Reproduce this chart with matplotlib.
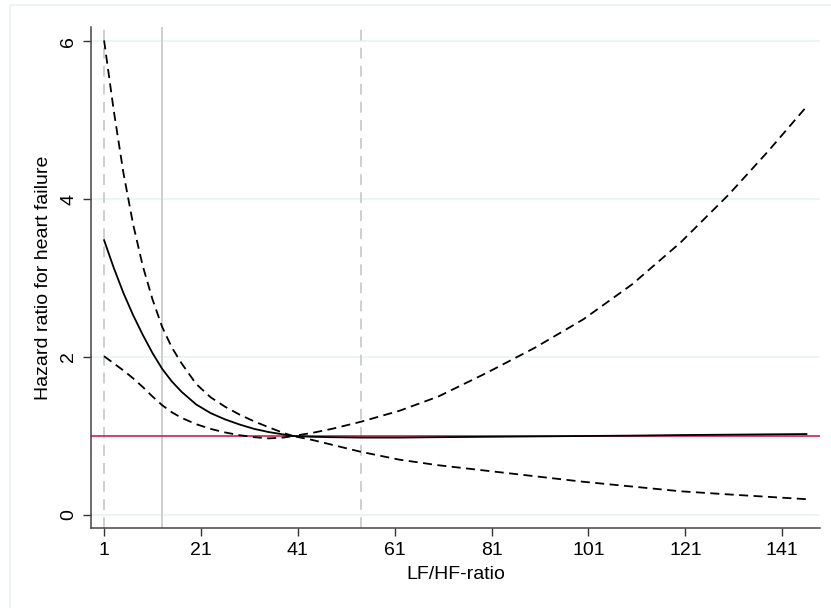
import matplotlib.pyplot as plt
from matplotlib.patches import Rectangle

# hazard ratio curve (reference LF/HF-ratio = 40)
lfhf = [1, 3, 5, 7, 9, 11, 13, 15, 17, 20, 23, 26, 29, 32, 35, 38, 40,
        44, 48, 54, 62, 70, 80, 90, 100, 110, 120, 130, 138, 146]
hr = [3.48, 3.13, 2.81, 2.53, 2.28, 2.05, 1.85, 1.69, 1.56, 1.40, 1.29, 1.21,
      1.145, 1.09, 1.05, 1.02, 1.00, 0.99, 0.985, 0.98, 0.98, 0.985, 0.99,
      0.995, 1.00, 1.005, 1.012, 1.017, 1.021, 1.025]
hr_upper = [6.01, 5.12, 4.33, 3.68, 3.15, 2.73, 2.38, 2.12, 1.92, 1.66, 1.49,
            1.37, 1.27, 1.185, 1.11, 1.04, 1.00, 1.04, 1.09, 1.18, 1.32, 1.50,
            1.80, 2.12, 2.48, 2.92, 3.45, 4.06, 4.60, 5.17]
hr_lower = [2.01, 1.92, 1.83, 1.73, 1.62, 1.50, 1.39, 1.30, 1.23, 1.15, 1.09,
            1.045, 1.01, 0.985, 0.97, 0.98, 1.00, 0.95, 0.89, 0.80, 0.70, 0.63,
            0.56, 0.49, 0.42, 0.36, 0.30, 0.26, 0.23, 0.20]

# percentile lines
pct_dashed = [1, 54]
pct_solid = [13]

xticks = [1, 21, 41, 61, 81, 101, 121, 141]
yticks = [0, 2, 4, 6]

plt.rcParams['font.family'] = ['Liberation Sans', 'DejaVu Sans']
fig = plt.figure(figsize=(8.31, 6.08), dpi=100)
fig.patches.append(Rectangle((10 / 831, -0.1), 1.0, 1 - 5 / 608 + 0.1,
                             transform=fig.transFigure, fill=False,
                             edgecolor='#eaf0f2', lw=1.2, zorder=0))

ax = fig.add_axes([91 / 831, 80 / 608, 729 / 831, 501 / 608])

for y in yticks:
    ax.axhline(y, color='#eaf2f3', lw=1.2, zorder=0)
for x in pct_dashed:
    ax.axvline(x, color='#cccccc', lw=1.3, ls=(0, (6, 4)), zorder=1)
for x in pct_solid:
    ax.axvline(x, color='#cccccc', lw=1.3, zorder=1)
ax.axhline(1, color='#d21f4e', lw=1.2, zorder=2)

ax.plot(lfhf, hr, color='black', lw=1.3, zorder=3)
ax.plot(lfhf, hr_upper, color='black', lw=1.3, ls=(0, (5, 3)), zorder=3)
ax.plot(lfhf, hr_lower, color='black', lw=1.3, ls=(0, (5, 3)), zorder=3)

ax.set_xlim(-1.7, 148.8)
ax.set_ylim(-0.165, 6.18)
ax.set_xticks(xticks)
ax.set_yticks(yticks)
ax.set_yticklabels([str(v) for v in yticks], rotation=90, va='center')
ax.tick_params(direction='out', length=6, width=1, labelsize=14, pad=4,
               color='#333333')

for s in ['top', 'right']:
    ax.spines[s].set_visible(False)
for s in ['left', 'bottom']:
    ax.spines[s].set_color('#444444')
    ax.spines[s].set_linewidth(1.1)

ax.set_xlabel('LF/HF-ratio', fontsize=14, labelpad=5)
ax.set_ylabel('Hazard ratio for heart failure', fontsize=14, labelpad=6)

fig.savefig('out.png', dpi=100)
